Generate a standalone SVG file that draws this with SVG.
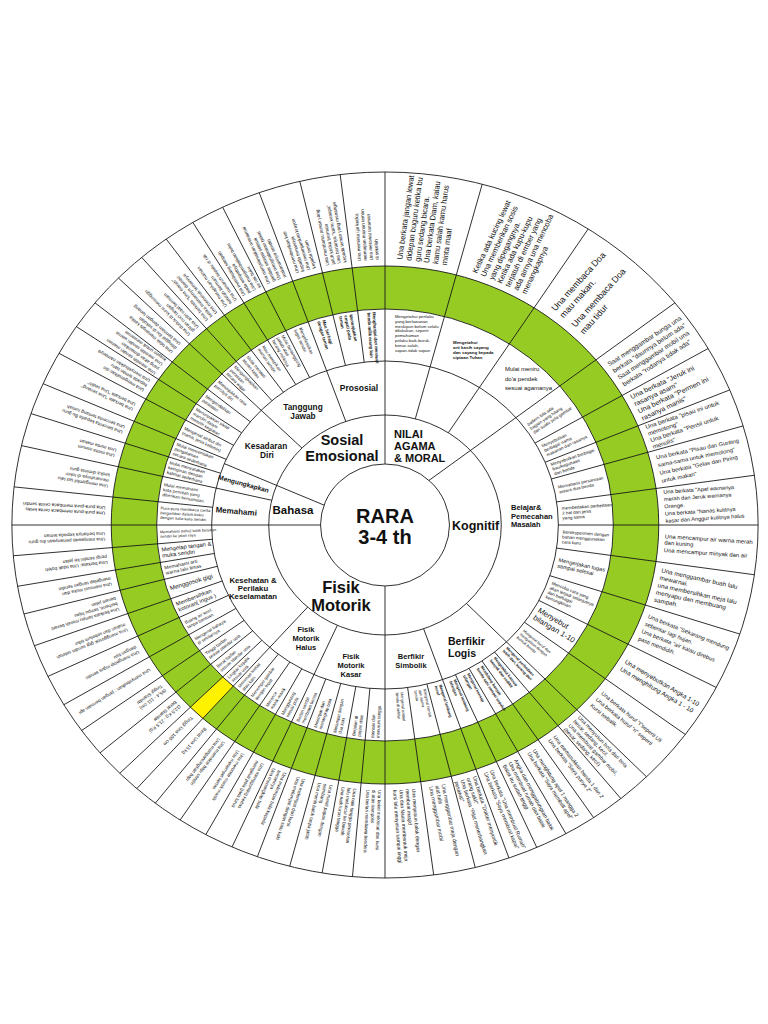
<svg xmlns="http://www.w3.org/2000/svg" width="768" height="1024" viewBox="0 0 768 1024">
<style>
.ln{stroke:#1a1a1a;stroke-width:0.9;fill:none;vector-effect:non-scaling-stroke}
text{font-family:"Liberation Sans",Arial,sans-serif;fill:#111}
.b{font-weight:bold}
.o{font-size:7.5px}
.om{font-size:6.2px}
.ob{font-size:5.2px}
.os{font-size:4.6px}
.i{font-size:4.3px}
.im{font-size:5.5px}
.lab{font-weight:bold;text-anchor:middle}
</style>
<rect width="768" height="1024" fill="#fff"/>
<g id="wheel" transform="translate(385,525) scale(1.057,1)">
 <g id="bands">
  <circle r="353" fill="#fff"/>
  <circle r="237.5" fill="none" stroke="#95cb23" stroke-width="43"/>
  <path id="yellow-cell" d="M -184.1 182.2 A 259 259 0 0 0 -172.3 193.4 L -143.7 161.3 A 216 216 0 0 1 -153.5 151.9 Z" fill="#fff200"/>
 </g>
 <g id="connectors">
  <circle class="ln" r="353"/>
  <circle class="ln" r="259"/>
  <circle class="ln" r="216"/>
  <circle class="ln" r="164"/>
  <circle class="ln" r="110"/>
  <circle class="ln" r="61"/>
  <line class="ln" x1="41.6" y1="-44.6" x2="274.3" y2="-222.2"/>
  <line class="ln" x1="-57.7" y1="-19.9" x2="-152.1" y2="-61.4"/>
  <g id="domain-lines">
   <line class="ln" x1="61" x2="353" transform="rotate(-90)"/>
   <line class="ln" x1="61" x2="353" transform="rotate(-180)"/>
   <line class="ln" x1="61" x2="353" transform="rotate(90)"/>
  </g>
  <g id="sub-lines">
   <line class="ln" x1="110" x2="353" transform="rotate(-74.9)"/>
   <line class="ln" x1="110" x2="353" transform="rotate(-57)"/>
   <line class="ln" x1="110" x2="353" transform="rotate(-109.7)"/>
   <line class="ln" x1="110" x2="353" transform="rotate(-135.6)"/>
   <line class="ln" x1="110" x2="353" transform="rotate(-167)"/>
   <line class="ln" x1="110" x2="353" transform="rotate(-228.3)"/>
   <line class="ln" x1="110" x2="353" transform="rotate(-245.8)"/>
   <line class="ln" x1="110" x2="353" transform="rotate(70.6)"/>
   <line class="ln" x1="110" x2="353" transform="rotate(45.5)"/>
  </g>
  <g id="cell-lines">
   <line class="ln" x1="164" x2="353" transform="rotate(-30)"/>
   <line class="ln" x1="164" x2="353" transform="rotate(-22.5)"/>
   <line class="ln" x1="164" x2="353" transform="rotate(-16.3)"/>
   <line class="ln" x1="164" x2="353" transform="rotate(-8.1)"/>
   <line class="ln" x1="164" x2="353" transform="rotate(0)"/>
   <line class="ln" x1="164" x2="353" transform="rotate(8.1)"/>
   <line class="ln" x1="164" x2="353" transform="rotate(18)"/>
   <line class="ln" x1="164" x2="353" transform="rotate(27.4)"/>
   <line class="ln" x1="164" x2="353" transform="rotate(36.4)"/>
   <line class="ln" x1="164" x2="353" transform="rotate(50.8)"/>
   <line class="ln" x1="164" x2="353" transform="rotate(56)"/>
   <line class="ln" x1="164" x2="353" transform="rotate(61)"/>
   <line class="ln" x1="164" x2="353" transform="rotate(66)"/>
   <line class="ln" x1="164" x2="353" transform="rotate(76)"/>
   <line class="ln" x1="164" x2="353" transform="rotate(82.5)"/>
   <line class="ln" x1="164" x2="353" transform="rotate(-265)"/>
   <line class="ln" x1="164" x2="353" transform="rotate(-260.3)"/>
   <line class="ln" x1="164" x2="353" transform="rotate(-255.2)"/>
   <line class="ln" x1="164" x2="353" transform="rotate(-250)"/>
   <line class="ln" x1="164" x2="353" transform="rotate(-241.3)"/>
   <line class="ln" x1="164" x2="353" transform="rotate(-236.7)"/>
   <line class="ln" x1="164" x2="353" transform="rotate(-232)"/>
   <line class="ln" x1="164" x2="353" transform="rotate(-224.7)"/>
   <line class="ln" x1="164" x2="353" transform="rotate(-220.2)"/>
   <line class="ln" x1="164" x2="353" transform="rotate(-215.6)"/>
   <line class="ln" x1="164" x2="353" transform="rotate(-210.6)"/>
   <line class="ln" x1="164" x2="353" transform="rotate(-205.4)"/>
   <line class="ln" x1="164" x2="353" transform="rotate(-200)"/>
   <line class="ln" x1="164" x2="353" transform="rotate(-194.6)"/>
   <line class="ln" x1="164" x2="353" transform="rotate(-190)"/>
   <line class="ln" x1="164" x2="353" transform="rotate(-185)"/>
   <line class="ln" x1="164" x2="353" transform="rotate(-173.8)"/>
   <line class="ln" x1="164" x2="353" transform="rotate(-161.6)"/>
   <line class="ln" x1="164" x2="353" transform="rotate(-156.4)"/>
   <line class="ln" x1="164" x2="353" transform="rotate(-150.9)"/>
   <line class="ln" x1="164" x2="353" transform="rotate(-145.8)"/>
   <line class="ln" x1="164" x2="353" transform="rotate(-141)"/>
   <line class="ln" x1="164" x2="353" transform="rotate(-130.7)"/>
   <line class="ln" x1="164" x2="353" transform="rotate(-125.9)"/>
   <line class="ln" x1="164" x2="353" transform="rotate(-121)"/>
   <line class="ln" x1="164" x2="353" transform="rotate(-115.8)"/>
   <line class="ln" x1="164" x2="353" transform="rotate(-103.2)"/>
   <line class="ln" x1="164" x2="353" transform="rotate(-96.9)"/>
  </g>
 </g>

 <g id="nilai-agama-outer">
  <text class="o" transform="rotate(-82.45)" y="-18.65"><tspan x="265">Una berkata jangan lewat</tspan><tspan x="265" dy="8.5">didepan buguru ketika bu</tspan><tspan x="265" dy="8.5">guru sedang bicara.</tspan><tspan x="265" dy="8.5">Una berkata Diam, kalau</tspan><tspan x="265" dy="8.5">kamu salah kamu harus</tspan><tspan x="265" dy="8.5">minta maaf</tspan></text>
  <text class="o" transform="rotate(-65.95)" y="-22.9"><tspan x="265">Ketika ada kucing lewat</tspan><tspan x="265" dy="8.5">Una memberikan sosis</tspan><tspan x="265" dy="8.5">yang dipegangnya.</tspan><tspan x="265" dy="8.5">Ketika ada kupu-kupu</tspan><tspan x="265" dy="8.5">terjatuh di ember yang</tspan><tspan x="265" dy="8.5">ada airnya una mencoba</tspan><tspan x="265" dy="8.5">menangkapnya</tspan></text>
  <text transform="rotate(-49.5)" style="font-size:8.6px" y="-16"><tspan x="267">Una membaca Doa</tspan><tspan x="267" dy="10.5">mau makan.</tspan><tspan x="267" dy="14.5">Una membaca Doa</tspan><tspan x="267" dy="10.5">mau tidur</tspan></text>
 </g>
 <g id="kognitif-outer">
  <text style="font-size:6.3px" transform="rotate(-34.5)" y="-10.4"><tspan x="265">Saat menggambar bunga una</tspan><tspan x="265" dy="8.2">berkata "daunnya belum ada"</tspan><tspan x="265" dy="8.2">Saat menggambar mobil una</tspan><tspan x="265" dy="8.2">berkata "rodanya tidak ada"</tspan></text>
  <text style="font-size:6.8px" transform="rotate(-26.25)" y="-9.6"><tspan x="265">Una berkata "Jeruk ini</tspan><tspan x="265" dy="8">rasanya asam"</tspan><tspan x="265" dy="8">Una berkata "Permen ini</tspan><tspan x="265" dy="8">rasanya manis"</tspan></text>
  <text style="font-size:5.9px" transform="rotate(-19.4)" y="-8.4"><tspan x="265">Una berkata "pisau ini untuk</tspan><tspan x="265" dy="7">memotong"</tspan><tspan x="265" dy="7">Una berkata "Pensil untuk</tspan><tspan x="265" dy="7">menulis"</tspan></text>
  <text style="font-size:5.6px" transform="rotate(-12.2)" y="-10"><tspan x="265">Una berkata "Pisau dan Gunting</tspan><tspan x="265" dy="8">sama-sama untuk memotong"</tspan><tspan x="265" dy="8">Una berkata "Gelas dan Piring</tspan><tspan x="265" dy="8">untuk makan"</tspan></text>
  <text style="font-size:5.3px" transform="rotate(-4.05)" y="-12.6"><tspan x="265">Una berkata "Apel warnanya</tspan><tspan x="265" dy="7.3">merah dan Jeruk warnanya</tspan><tspan x="265" dy="7.3">Orange.</tspan><tspan x="265" dy="7.3">Una berkata "Nanas kulitnya</tspan><tspan x="265" dy="7.3">kasar dan Anggur kulitnya halus</tspan></text>
  <text style="font-size:5.6px" transform="rotate(4.05)" y="-5.6"><tspan x="265">Una mencampur air warna merah</tspan><tspan x="265" dy="6.5">dan kuning</tspan><tspan x="265" dy="7.5">Una mencampur minyak dan air</tspan></text>
  <text style="font-size:6px" transform="rotate(13.05)" y="-12.9"><tspan x="265">Una menggambar buah lalu</tspan><tspan x="265" dy="7.5">mewarnai.</tspan><tspan x="265" dy="7.5">una membersihkan meja lalu</tspan><tspan x="265" dy="7.5">menyapu dan membuang</tspan><tspan x="265" dy="7.5">sampah.</tspan></text>
  <text style="font-size:5.6px" transform="rotate(22.7)" y="-10"><tspan x="265">Una berkata "Sekarang mendung</tspan><tspan x="265" dy="8">sebentar lagi hujan.</tspan><tspan x="265" dy="8">Una berkata "air kalau direbus</tspan><tspan x="265" dy="8">pasti mendidih.</tspan></text>
  <text style="font-size:6.1px" transform="rotate(31.9)" y="-2.4"><tspan x="265">Una menyebutkan Angka 1-10</tspan><tspan x="265" dy="8.5">Una menghitung Angka 1 - 10</tspan></text>
  <text style="font-size:5.4px" transform="rotate(40.95)" y="-6.1"><tspan x="265">Una berkata huruf "I"seperti Uli</tspan><tspan x="265" dy="8">Una berkata huruf "n" seperti</tspan><tspan x="265" dy="8">Kursi terbalik.</tspan></text>
  <text class="ob" transform="rotate(48.15)" y="-7.1"><tspan x="265">Una menyusun bola dari bola</tspan><tspan x="265" dy="6">besar, sedang, kecil.</tspan><tspan x="265" dy="6">Una membuat gambar mobil,</tspan><tspan x="265" dy="6">(besar, sedang, kecil)</tspan></text>
  <text class="ob" transform="rotate(53.4)" y="-1.1"><tspan x="265">Una memasukkan benda 1 dan 2</tspan><tspan x="265" dy="6">Una berkata "Saya punya 2"</tspan></text>
  <text class="ob" transform="rotate(58.5)" y="-1.1"><tspan x="265">Una menghitung apel 1 mangga 2</tspan><tspan x="265" dy="6">Una berkata "Saya membeli apel"</tspan></text>
  <text class="ob" transform="rotate(63.5)" y="-4.1"><tspan x="265">Angka dan menggabungkan balok</tspan><tspan x="265" dy="6">Una membuat rumah dari balok</tspan><tspan x="265" dy="6">Balok itu sudah tinggi</tspan></text>
  <text class="ob" transform="rotate(68.3)" y="-1.1"><tspan x="265">Una berkata "Una membuat Rumah"</tspan><tspan x="265" dy="6">Una berkata "Saya membuat kapal"</tspan></text>
  <text class="ob" transform="rotate(73.3)" y="-7.1"><tspan x="265">Una berkata "Dokter menyuntik</tspan><tspan x="265" dy="6">orang sakit"</tspan><tspan x="265" dy="6">Una berkata "Pilot menerbangkan</tspan><tspan x="265" dy="6">pesawat"</tspan></text>
  <text class="ob" transform="rotate(79.25)" y="-4.1"><tspan x="265">Una menggambar meja dengan</tspan><tspan x="265" dy="6">alat tulis</tspan><tspan x="265" dy="6">Una menggambar mobil</tspan></text>
  <text style="font-size:4.9px" transform="rotate(86)" y="-7.1"><tspan x="265">Una menyusun balok dengan</tspan><tspan x="265" dy="6">membuat masjid</tspan><tspan x="265" dy="6">Una dan Nauta membentuk meja</tspan><tspan x="265" dy="6">kursi lalu menyusun sampai tinggi</tspan></text>
 </g>
 <g id="fisik-outer">
  <text class="os" transform="rotate(-267.75)" y="-3.9"><tspan x="265">Una bekel meloncat dari kursi</tspan><tspan x="265" dy="5.6">di atas trampolin</tspan><tspan x="265" dy="5.6">Una berlari membawa bendera</tspan></text>
  <text class="os" transform="rotate(-262.65)" y="-3.9"><tspan x="265">Una naik tangga perosotan</tspan><tspan x="265" dy="5.6">lalu meluncur ke bawah</tspan><tspan x="265" dy="5.6">Una naik turun tangga</tspan></text>
  <text class="os" transform="rotate(-257.75)" y="-3.9"><tspan x="265">Una meniti papan dengan</tspan><tspan x="265" dy="5.6">seimbang</tspan><tspan x="265" dy="5.6">Una meniti balok tanpa jatuh</tspan></text>
  <text class="os" transform="rotate(-252.6)" y="-1.1"><tspan x="265">Una melompat dari kursi</tspan><tspan x="265" dy="5.6">Una melompat dengan satu kaki</tspan></text>
  <text class="os" transform="rotate(-247.9)" y="-3.9"><tspan x="265">Una melempar bola kepada</tspan><tspan x="265" dy="5.6">temannya</tspan><tspan x="265" dy="5.6">Una menangkap bola</tspan></text>
  <text class="os" transform="rotate(-243.55)" y="-1.1"><tspan x="265">Una menggunting kertas</tspan><tspan x="265" dy="5.6">mengikuti pola garis lurus</tspan></text>
  <text class="os" transform="rotate(-239)" y="-1.1"><tspan x="265">Una meronce manik-manik</tspan><tspan x="265" dy="5.6">Una menempel kertas</tspan></text>
  <text class="os" transform="rotate(-234.35)" y="-1.1"><tspan x="265">Una memakai baju sendiri</tspan><tspan x="265" dy="5.6">Una mengancingkan baju</tspan></text>
  <text class="os" transform="rotate(-230.15)" y="1.7"><tspan x="265">Berat Una 15 kg</tspan></text>
  <text class="os" transform="rotate(-226.5)" y="1.7"><tspan x="265">Tinggi Una 100 cm</tspan></text>
  <text class="os" transform="rotate(-222.45)" y="-1.1"><tspan x="265">(12,5 Kg - 21,5 Kg)</tspan><tspan x="265" dy="5.6">Berat Standar</tspan></text>
  <text class="os" transform="rotate(-217.9)" y="-1.1"><tspan x="265">(95,4 - 111 cm)</tspan><tspan x="265" dy="5.6">Tinggi Standar</tspan></text>
  <text class="os" transform="rotate(-213.1)" y="1.7"><tspan x="265">Una menyebutkan : jangan bermain api</tspan></text>
  <text class="os" transform="rotate(-208)" y="-1.1"><tspan x="265">Una mengelap ingus sendiri</tspan><tspan x="265" dy="5.6">dengan tisu</tspan></text>
  <text class="os" transform="rotate(-202.7)" y="-1.1"><tspan x="265">Una menggosok gigi sendiri setelah</tspan><tspan x="265" dy="5.6">makan dan sebelum tidur</tspan></text>
  <text class="os" transform="rotate(-197.3)" y="-3.9"><tspan x="265">Una berkata lampu merah berarti</tspan><tspan x="265" dy="5.6">berhenti, lampu hijau</tspan><tspan x="265" dy="5.6">berarti jalan</tspan></text>
  <text class="os" transform="rotate(-192.3)" y="-1.1"><tspan x="265">Una mencuci muka dan</tspan><tspan x="265" dy="5.6">mengelap tangan sendiri</tspan></text>
  <text class="os" transform="rotate(-187.5)" y="-1.1"><tspan x="265">Una berkata: Una tidak boleh</tspan><tspan x="265" dy="5.6">pergi sendiri ke jalan</tspan></text>
  <text class="os" transform="rotate(-182.5)" y="-1.1"><tspan x="265">Una menjawab pertanyaan ibu guru</tspan><tspan x="265" dy="5.6">Una bertanya kepada teman</tspan></text>
 </g>
 <g id="bahasa-sosial-outer">
  <text class="os" transform="rotate(-176.9)" y="-1.1"><tspan x="265">Una pura-pura membaca cerita kelas</tspan><tspan x="265" dy="5.6">Una pura-pura membaca cerita sendiri</tspan></text>
  <text class="os" transform="rotate(-170.4)" y="-3.9"><tspan x="265">Una mengambil tas lalu</tspan><tspan x="265" dy="5.6">menaruhnya di loker</tspan><tspan x="265" dy="5.6">ketika diminta guru</tspan></text>
  <text class="os" transform="rotate(-164.3)" y="-1.1"><tspan x="265">Una minta minum</tspan><tspan x="265" dy="5.6">Una minta makan</tspan></text>
  <text class="os" transform="rotate(-159)" y="-1.1"><tspan x="265">Una bercerita kepada Bu guru</tspan><tspan x="265" dy="5.6">Una bercerita tentang rumah</tspan></text>
  <text class="os" transform="rotate(-153.65)" y="-1.1"><tspan x="265">Una berkata "Una senang"</tspan><tspan x="265" dy="5.6">Una berkata "Una sedih"</tspan></text>
  <text class="os" transform="rotate(-148.35)" y="-3.9"><tspan x="265">Una mengenalkan diri</tspan><tspan x="265" dy="5.6">kepada teman baru</tspan><tspan x="265" dy="5.6">Una menyebutkan namanya</tspan></text>
  <text class="os" transform="rotate(-143.4)" y="-6.7"><tspan x="265">Una memilih sendiri mainan</tspan><tspan x="265" dy="5.6">yang akan dimainkan</tspan><tspan x="265" dy="5.6">Una memilih sendiri warna</tspan><tspan x="265" dy="5.6">krayon untuk mewarnai</tspan></text>
  <text class="os" transform="rotate(-138.3)" y="-3.9"><tspan x="265">Una tidak menangis ketika</tspan><tspan x="265" dy="5.6">ditinggal ibu di sekolah</tspan><tspan x="265" dy="5.6">Una bermain dengan tenang</tspan></text>
  <text class="os" transform="rotate(-133.15)" y="-3.9"><tspan x="265">Una duduk di kursi menunggu</tspan><tspan x="265" dy="5.6">giliran cuci tangan</tspan><tspan x="265" dy="5.6">Una antri saat bermain</tspan></text>
  <text class="os" transform="rotate(-128.3)" y="-3.9"><tspan x="265">Una berkata "Una marah"</tspan><tspan x="265" dy="5.6">ketika mainannya diambil</tspan><tspan x="265" dy="5.6">Una memeluk temannya</tspan></text>
  <text class="os" transform="rotate(-123.45)" y="-3.9"><tspan x="265">Una merapikan mainan</tspan><tspan x="265" dy="5.6">setelah bermain</tspan><tspan x="265" dy="5.6">Una menaruh sepatu di rak</tspan></text>
  <text class="os" transform="rotate(-118.4)" y="-6.7"><tspan x="265">Una membuang sampah</tspan><tspan x="265" dy="5.6">pada tempatnya</tspan><tspan x="265" dy="5.6">Una mengembalikan buku</tspan><tspan x="265" dy="5.6">ke rak buku</tspan></text>
  <text class="os" transform="rotate(-112.75)" y="-6.7"><tspan x="265">Una menyelesaikan mewarnai</tspan><tspan x="265" dy="5.6">gambar sampai selesai</tspan><tspan x="265" dy="5.6">Una menghabiskan bekal</tspan><tspan x="265" dy="5.6">makanannya sendiri</tspan></text>
  <text class="os" transform="rotate(-106.45)" y="-6.7"><tspan x="265">Una memberikan kue</tspan><tspan x="265" dy="5.6">kepada temannya</tspan><tspan x="265" dy="5.6">Una meminjamkan krayon</tspan><tspan x="265" dy="5.6">kepada teman</tspan></text>
  <text class="os" transform="rotate(-100.05)" y="-6.7"><tspan x="265">Una membantu teman yang</tspan><tspan x="265" dy="5.6">jatuh ketika bermain</tspan><tspan x="265" dy="5.6">Una bertanya "kamu kenapa"</tspan><tspan x="265" dy="5.6">kepada teman yang menangis</tspan></text>
  <text class="os" transform="rotate(-93.45)" y="-6.7"><tspan x="265">Una meminta ijin ketika</tspan><tspan x="265" dy="5.6">meminjam mainan teman</tspan><tspan x="265" dy="5.6">Una merawat tanaman</tspan><tspan x="265" dy="5.6">di sekolah</tspan></text>
 </g>

 <g id="kognitif-inner">
  <text class="i" transform="rotate(-35)" y="-3.5"><tspan x="168">pattern bila ada</tspan><tspan x="168" dy="5">bagian yang hilang</tspan><tspan x="168" dy="5">dari suatu pola gambar</tspan></text>
  <text class="i" transform="rotate(-26.25)" y="-3.5"><tspan x="168">Menyebutkan</tspan><tspan x="168" dy="5">berbagai nama</tspan><tspan x="168" dy="5">makanan dan rasanya</tspan></text>
  <text class="i" transform="rotate(-19.4)" y="-3.5"><tspan x="168">Menyebutkan berbagai</tspan><tspan x="168" dy="5">bau/kegunaan</tspan><tspan x="168" dy="5">dari benda</tspan></text>
  <text class="i" transform="rotate(-12.2)" y="-1"><tspan x="168">Memahami persamaan</tspan><tspan x="168" dy="5">antara dua benda</tspan></text>
  <text class="i" transform="rotate(-4.05)" y="-3.5"><tspan x="168">membedakan perbedaan</tspan><tspan x="168" dy="5">2 hal dari jenis</tspan><tspan x="168" dy="5">yang sama</tspan></text>
  <text class="i" transform="rotate(4.05)" y="-3.5"><tspan x="168">Bereksperimen dengan</tspan><tspan x="168" dy="5">bahan menggunakan</tspan><tspan x="168" dy="5">cara baru</tspan></text>
  <text style="font-size:5.3px" transform="rotate(13.05)" y="-1.4"><tspan x="168">Mengerjakan tugas</tspan><tspan x="168" dy="6">sampai selesai</tspan></text>
  <text class="i" transform="rotate(22.7)" y="-6"><tspan x="168">Mencoba cara yang</tspan><tspan x="168" dy="5">akan terjadi selanjutnya</tspan><tspan x="168" dy="5">dari berbagai</tspan><tspan x="168" dy="5">kemungkinan</tspan></text>
  <text style="font-size:7.5px" transform="rotate(31.9)" y="-2.5"><tspan x="168">Menyebut</tspan><tspan x="168" dy="8.5">bilangan 1-10</tspan></text>
  <text style="font-size:3.8px" transform="rotate(40.95)" y="-5"><tspan x="168">Mengenal huruf dan</tspan><tspan x="168" dy="4.5">mengaitkan dengan</tspan><tspan x="168" dy="4.5">bentuk benda</tspan></text>
  <text style="font-size:3.8px" class="b" transform="rotate(48.15)" y="-3"><tspan x="168">Mengenal perbedaan</tspan><tspan x="168" dy="4.5">lebih dari, kurang dari</tspan></text>
  <text style="font-size:3.8px" class="b" transform="rotate(53.4)" y="-3"><tspan x="168">Mengetahui konsep</tspan><tspan x="168" dy="4.5">banyak dan sedikit</tspan></text>
  <text style="font-size:3.8px" class="b" transform="rotate(58.5)" y="-3"><tspan x="168">Membilang banyak</tspan><tspan x="168" dy="4.5">benda satu sampai sepuluh</tspan></text>
  <text style="font-size:3.8px" class="b" transform="rotate(63.5)" y="-3"><tspan x="168">Mengenal konsep</tspan><tspan x="168" dy="4.5">bilangan</tspan></text>
  <text style="font-size:3.8px" class="b" transform="rotate(68.3)" y="-3"><tspan x="168">Mengenal lambang</tspan><tspan x="168" dy="4.5">bilangan</tspan></text>
  <text style="font-size:3.8px" class="b" transform="rotate(73.3)" y="-3"><tspan x="168">Mengenal lambang</tspan><tspan x="168" dy="4.5">huruf</tspan></text>
  <text style="font-size:3.8px" transform="rotate(79.25)" y="-5"><tspan x="168">Mengenal bentuk</tspan><tspan x="168" dy="4.5">dan warna</tspan><tspan x="168" dy="4.5">benda</tspan></text>
  <text style="font-size:3.8px" transform="rotate(86)" y="-3"><tspan x="168">Mengenal simbol</tspan><tspan x="168" dy="4.5">benda di sekitar</tspan></text>
 </g>
 <g id="fisik-inner">
  <text class="i" transform="rotate(-87.5)" y="-1"><tspan x="-213">Menaiki dan</tspan><tspan x="-213" dy="5">menuruni tangga</tspan></text>
  <text class="i" transform="rotate(-82.65)" y="-1"><tspan x="-213">Berjalan di</tspan><tspan x="-213" dy="5">papan titian</tspan></text>
  <text class="i" transform="rotate(-77.75)" y="-1"><tspan x="-213">Melompat dengan</tspan><tspan x="-213" dy="5">dua kaki</tspan></text>
  <text class="i" transform="rotate(-72.6)" y="-1"><tspan x="-213">Melempar dan</tspan><tspan x="-213" dy="5">menangkap bola</tspan></text>
  <text class="i" transform="rotate(-67.9)" y="-1"><tspan x="-213">Berlari sambil</tspan><tspan x="-213" dy="5">membawa benda</tspan></text>
  <text class="i" transform="rotate(-63.55)" y="-1"><tspan x="-213">Menggunting</tspan><tspan x="-213" dy="5">sesuai pola</tspan></text>
  <text class="i" transform="rotate(-59)" y="-1"><tspan x="-213">Meronce</tspan><tspan x="-213" dy="5">manik-manik</tspan></text>
  <text class="i" transform="rotate(-54.35)" y="-1"><tspan x="-213">Menempel gambar</tspan><tspan x="-213" dy="5">dengan tepat</tspan></text>
  <text class="i" transform="rotate(-50.15)" y="-1"><tspan x="-213">Meremas kertas</tspan><tspan x="-213" dy="5">atau kain</tspan></text>
  <text class="i" transform="rotate(-46.5)" y="-1"><tspan x="-213">Lingkar kepala</tspan><tspan x="-213" dy="5">sesuai usia</tspan></text>
  <text class="i" transform="rotate(-42.45)" y="-1"><tspan x="-213">Berat badan</tspan><tspan x="-213" dy="5">sesuai standar usia</tspan></text>
  <text class="i" transform="rotate(-37.9)" y="-1"><tspan x="-213">Tinggi badan</tspan><tspan x="-213" dy="5">sesuai standar usia</tspan></text>
  <text class="i" transform="rotate(-33.1)" y="-1"><tspan x="-213">Mengenal bahaya</tspan><tspan x="-213" dy="5">di sekitarnya</tspan></text>
  <text class="i" transform="rotate(-28)" y="-1"><tspan x="-213">Buang air kecil</tspan><tspan x="-213" dy="5">tanpa bantuan</tspan></text>
  <text class="im" transform="rotate(-22.7)" y="-1.2"><tspan x="-213">Membersihkan</tspan><tspan x="-213" dy="6">kotoran( ingus )</tspan></text>
  <text style="font-size:6px" transform="rotate(-17.3)" y="2"><tspan x="-213">Menggosok gigi</tspan></text>
  <text style="font-size:4.8px" transform="rotate(-12.3)" y="-1"><tspan x="-213">Memahami arti</tspan><tspan x="-213" dy="5.4">warna lalu lintas</tspan></text>
  <text class="im" transform="rotate(-7.5)" y="-1.2"><tspan x="-213">Mengelap tangan &amp;</tspan><tspan x="-213" dy="6">muka sendiri</tspan></text>
  <text style="font-size:3.8px" transform="rotate(-2.5)" y="-1"><tspan x="-213">Memahami (tahu) tidak berjalan</tspan><tspan x="-213" dy="4.5">sendiri ke jalan raya</tspan></text>
 </g>
 <g id="bahasa-sosial-inner">
  <text style="font-size:4px" transform="rotate(3.1)" y="-4"><tspan x="-213">Pura-pura membaca cerita</tspan><tspan x="-213" dy="4.7">bergambar dalam buku</tspan><tspan x="-213" dy="4.7">dengan kata-kata sendiri</tspan></text>
  <text style="font-size:4.3px" transform="rotate(9.6)" y="-3.5"><tspan x="-213">Mulai memahami</tspan><tspan x="-213" dy="5">kata perintah yang</tspan><tspan x="-213" dy="5">diberikan bersamaan</tspan></text>
  <text class="i" transform="rotate(15.7)" y="-3.5"><tspan x="-213">Mulai menyatakan</tspan><tspan x="-213" dy="5">keinginan dengan</tspan><tspan x="-213" dy="5">kalimat sederhana</tspan></text>
  <text class="i" transform="rotate(21)" y="-3.5"><tspan x="-213">Mulai menceritakan</tspan><tspan x="-213" dy="5">pengalaman</tspan><tspan x="-213" dy="5">secara sederhana</tspan></text>
  <text class="i" transform="rotate(26.35)" y="-1"><tspan x="-213">Mengenal atribut diri</tspan><tspan x="-213" dy="5">(nama, jenis kelamin)</tspan></text>
  <text class="i" transform="rotate(31.65)" y="-3.5"><tspan x="-213">Menunjukkan sikap</tspan><tspan x="-213" dy="5">mandiri dalam</tspan><tspan x="-213" dy="5">memilih kegiatan</tspan></text>
  <text class="i" transform="rotate(36.6)" y="-1"><tspan x="-213">Mengendalikan</tspan><tspan x="-213" dy="5">perasaan</tspan></text>
  <text class="i" transform="rotate(41.7)" y="-1"><tspan x="-213">Menunjukkan rasa</tspan><tspan x="-213" dy="5">percaya diri</tspan></text>
  <text class="i" transform="rotate(46.85)" y="-3.5"><tspan x="-213">Mengungkapkan</tspan><tspan x="-213" dy="5">perasaan</tspan><tspan x="-213" dy="5">secara wajar</tspan></text>
  <text class="i" transform="rotate(51.7)" y="-1"><tspan x="-213">Mulai menaati</tspan><tspan x="-213" dy="5">aturan kelas</tspan></text>
  <text class="i" transform="rotate(56.55)" y="-1"><tspan x="-213">Mau merapikan</tspan><tspan x="-213" dy="5">mainan sendiri</tspan></text>
  <text class="i" transform="rotate(61.6)" y="-3.5"><tspan x="-213">Mulai bertanggung</tspan><tspan x="-213" dy="5">jawab atas</tspan><tspan x="-213" dy="5">barang miliknya</tspan></text>
  <text class="i" transform="rotate(67.25)" y="-1"><tspan x="-213">Menyelesaikan</tspan><tspan x="-213" dy="5">tugas sendiri</tspan></text>
  <text class="i b" transform="rotate(73.55)" y="-1"><tspan x="-213">Mau berbagi</tspan><tspan x="-213" dy="5">dengan teman</tspan></text>
  <text class="i b" transform="rotate(79.95)" y="-3.5"><tspan x="-213">Menunjukkan</tspan><tspan x="-213" dy="5">empati pada</tspan><tspan x="-213" dy="5">teman</tspan></text>
  <text class="i b" transform="rotate(86.55)" y="-1"><tspan x="-213">Menghargai dan merawat</tspan><tspan x="-213" dy="5">benda milik orang lain</tspan></text>
 </g>
</g>

<g id="nam-inner">
 <text style="font-size:4.3px"><tspan x="395" y="318">Mengetahui perilaku</tspan><tspan x="395" dy="4.8">yang berlawanan</tspan><tspan x="395" dy="4.8">meskipun belum selalu</tspan><tspan x="395" dy="4.8">dilakukan, seperti</tspan><tspan x="395" dy="4.8">pemahaman</tspan><tspan x="395" dy="4.8">prilaku baik-buruk,</tspan><tspan x="395" dy="4.8">benar-salah,</tspan><tspan x="395" dy="4.8">sopan-tidak sopan</tspan></text>
 <text class="b" style="font-size:4.4px"><tspan x="453" y="344">Mengetahui</tspan><tspan x="453" dy="5">arti kasih sayang</tspan><tspan x="453" dy="5">dan sayang kepada</tspan><tspan x="453" dy="5">ciptaan Tuhan</tspan></text>
 <text style="font-size:6px"><tspan x="505" y="371">Mulai meniru</tspan><tspan x="505" dy="9.5">do'a pendek</tspan><tspan x="505" dy="9.5">sesuai agamanya</tspan></text>
</g>

<g id="sub-labels">
 <text class="lab" style="font-size:8.5px" x="359" y="391">Prososial</text>
 <text class="lab" style="font-size:8.3px" x="303" y="410">Tanggung</text>
 <text class="lab" style="font-size:8.3px" x="303" y="419">Jawab</text>
 <text class="lab" style="font-size:8.3px" x="266" y="449">Kesadaran</text>
 <text class="lab" style="font-size:8.3px" x="267" y="458">Diri</text>
 <text class="lab" style="font-size:6.6px" transform="translate(243,486) rotate(15)">Mengungkapkan</text>
 <text class="lab" style="font-size:8px" transform="translate(236,514) rotate(5)">Memahami</text>
 <text class="lab" style="font-size:7.8px" x="253" y="583">Kesehatan &amp;</text>
 <text class="lab" style="font-size:7.8px" x="253" y="591">Perilaku</text>
 <text class="lab" style="font-size:7.8px" x="253" y="599">Keselamatan</text>
 <text class="lab" style="font-size:7.5px" x="306" y="632">Fisik</text>
 <text class="lab" style="font-size:7.5px" x="306" y="641">Motorik</text>
 <text class="lab" style="font-size:7.5px" x="306" y="650">Halus</text>
 <text class="lab" style="font-size:7.5px" x="351" y="659">Fisik</text>
 <text class="lab" style="font-size:7.5px" x="351" y="668">Motorik</text>
 <text class="lab" style="font-size:7.5px" x="351" y="677">Kasar</text>
 <text class="lab" style="font-size:7.5px" x="411" y="659">Berfikir</text>
 <text class="lab" style="font-size:7.5px" x="411" y="668">Simbolik</text>
 <text class="b" style="font-size:10.5px" x="448" y="645">Berfikir</text>
 <text class="b" style="font-size:10.5px" x="448" y="657">Logis</text>
 <text class="b" style="font-size:7.5px" x="511" y="510">Belajar&amp;</text>
 <text class="b" style="font-size:7.5px" x="511" y="518.5">Pemecahan</text>
 <text class="b" style="font-size:7.5px" x="511" y="527">Masalah</text>
</g>

<g id="domains">
 <g id="sosial-emosional"><text class="lab" style="font-size:14.5px" x="342" y="445">Sosial</text><text class="lab" style="font-size:14.5px" x="342" y="461">Emosional</text></g>
 <g id="nilai-agama-moral"><text class="b" style="font-size:11px" x="394" y="438">NILAI</text><text class="b" style="font-size:11px" x="394" y="450">AGAMA</text><text class="b" style="font-size:11px" x="394" y="462">&amp; MORAL</text></g>
 <g id="kognitif"><text class="b" style="font-size:12.5px" x="452" y="530">Kognitif</text></g>
 <g id="fisik-motorik"><text class="lab" style="font-size:16.5px" x="341" y="593">Fisik</text><text class="lab" style="font-size:16.5px" x="341" y="611">Motorik</text></g>
 <g id="bahasa"><text class="lab" style="font-size:11.5px" x="293" y="514">Bahasa</text></g>
 <g id="center"><text class="lab" style="font-size:20px" x="385" y="523">RARA</text><text class="lab" style="font-size:20px" x="385" y="544">3-4 th</text></g>
</g>
</svg>
